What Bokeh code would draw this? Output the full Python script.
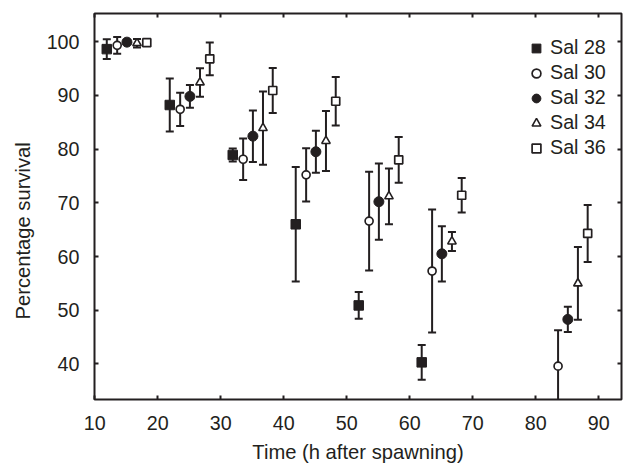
import math
from bokeh.plotting import figure
from bokeh.models import (ColumnDataSource, Whisker, TeeHead, LinearAxis,
                          SingleIntervalTicker, Legend, LegendItem, Title, Range1d)
from bokeh.transform import dodge
from bokeh.embed import file_html
from bokeh.resources import INLINE

# ---- data ----
times = [12, 22, 32, 42, 52, 62, 82]
series_names = ["Sal 28", "Sal 30", "Sal 32", "Sal 34", "Sal 36"]

sal28_mean = [98.6, 88.2, 78.9, 66.0, 50.9, 40.3, None]
sal28_err = [1.85, 4.95, 1.2, 10.65, 2.5, 3.25, None]

sal30_mean = [99.3, 87.4, 78.1, 75.2, 66.6, 57.3, 39.6]
sal30_err = [1.55, 3.1, 3.85, 4.95, 9.2, 11.45, 6.7]

sal32_mean = [99.9, 89.8, 82.4, 79.5, 70.2, 60.5, 48.3]
sal32_err = [0.3, 2.1, 4.8, 3.9, 7.1, 5.15, 2.35]

sal34_mean = [99.7, 92.4, 83.9, 81.5, 71.2, 62.8, 55.0]
sal34_err = [0.8, 2.65, 6.8, 5.6, 5.2, 1.75, 6.75]

sal36_mean = [99.8, 96.8, 90.9, 88.9, 78.0, 71.4, 64.3]
sal36_err = [0.3, 3.05, 4.2, 4.5, 4.25, 3.2, 5.3]

x_ticks_interval = 10
y_ticks_interval = 10

# ---- styling ----
INK = "#231f20"
FONT = "Liberation Sans"
offsets = [-0.1, 1.55, 3.1, 4.7, 6.25]
styles = [
    dict(marker="square", size=9.5, fill_color=INK, line_color=INK, line_width=1),
    dict(marker="circle", size=8, fill_color="white", line_color=INK, line_width=1.7),
    dict(marker="circle", size=10, fill_color=INK, line_color=INK, line_width=1),
    dict(marker="triangle", size=8.5, fill_color="white", line_color=INK, line_width=1.6),
    dict(marker="square", size=8, fill_color="white", line_color=INK, line_width=1.7),
]

p = figure(width=625, height=465, output_backend="svg", toolbar_location=None,
           x_range=Range1d(9.95, 93.62), y_range=Range1d(33.39, 105.23),
           min_border_left=86, min_border_right=2, min_border_top=13,
           min_border_bottom=65)
p.grid.visible = False
p.outline_line_color = INK
p.outline_line_width = 2
p.outline_line_alpha = 1
p.background_fill_color = "white"
p.border_fill_color = "white"

means = [sal28_mean, sal30_mean, sal32_mean, sal34_mean, sal36_mean]
errs = [sal28_err, sal30_err, sal32_err, sal34_err, sal36_err]

renderers = []
for name, m, e, off, st in zip(series_names, means, errs, offsets, styles):
    t_ok = [t for t, mv in zip(times, m) if mv is not None]
    m_ok = [mv for mv in m if mv is not None]
    e_ok = [ev for ev, mv in zip(e, m) if mv is not None]
    src = ColumnDataSource(dict(
        t=t_ok, mean=m_ok,
        lower=[a - b for a, b in zip(m_ok, e_ok)],
        upper=[a + b for a, b in zip(m_ok, e_ok)],
    ))
    w = Whisker(source=src, base=dodge("t", off), upper="upper", lower="lower",
                line_color=INK, line_width=2,
                upper_head=TeeHead(size=8, line_color=INK, line_width=2),
                lower_head=TeeHead(size=8, line_color=INK, line_width=2))
    p.add_layout(w)
    r = p.scatter(x=dodge("t", off), y="mean", source=src, **st)
    renderers.append(r)

# axes
def style_axis(ax, show_labels):
    ax.axis_line_color = None
    ax.major_tick_in = 4
    ax.major_tick_out = 0
    ax.major_tick_line_color = INK
    ax.major_tick_line_width = 2
    ax.minor_tick_line_color = None
    ax.major_label_text_font = FONT
    ax.major_label_text_color = INK
    if show_labels:
        ax.major_label_text_font_size = "19.7px"
    else:
        ax.major_label_text_font_size = "1px"
        ax.major_label_text_color = None
        ax.major_label_standoff = 0

xa = p.xaxis[0]
xa.ticker = SingleIntervalTicker(interval=x_ticks_interval)
style_axis(xa, True)
xa.major_label_standoff = 12
xa.axis_label = "Time (h after spawning)"
xa.axis_label_text_font = FONT
xa.axis_label_text_font_size = "20.2px"
xa.axis_label_text_font_style = "normal"
xa.axis_label_text_color = INK
xa.axis_label_standoff = 8

ya = p.yaxis[0]
ya.ticker = SingleIntervalTicker(interval=y_ticks_interval)
style_axis(ya, True)
ya.major_label_standoff = 11

top = LinearAxis(ticker=SingleIntervalTicker(interval=x_ticks_interval))
style_axis(top, False)
p.add_layout(top, "above")
right = LinearAxis(ticker=SingleIntervalTicker(interval=y_ticks_interval))
style_axis(right, False)
p.add_layout(right, "right")

ylab = Title(text="Percentage survival", align="left", offset=80, standoff=19,
             text_font=FONT, text_font_size="20.2px", text_font_style="normal",
             text_color=INK)
p.add_layout(ylab, "left")

legend = Legend(items=[LegendItem(label=n, renderers=[r]) for n, r in zip(series_names, renderers)],
                location=(431, 240), orientation="vertical",
                glyph_width=22, glyph_height=22, label_height=22, spacing=2,
                label_standoff=3, padding=0, margin=0,
                border_line_color=None, background_fill_alpha=0,
                label_text_font=FONT, label_text_font_size="19.7px", label_text_color=INK)
p.add_layout(legend)

open("out.html", "w").write(file_html(p, INLINE))
